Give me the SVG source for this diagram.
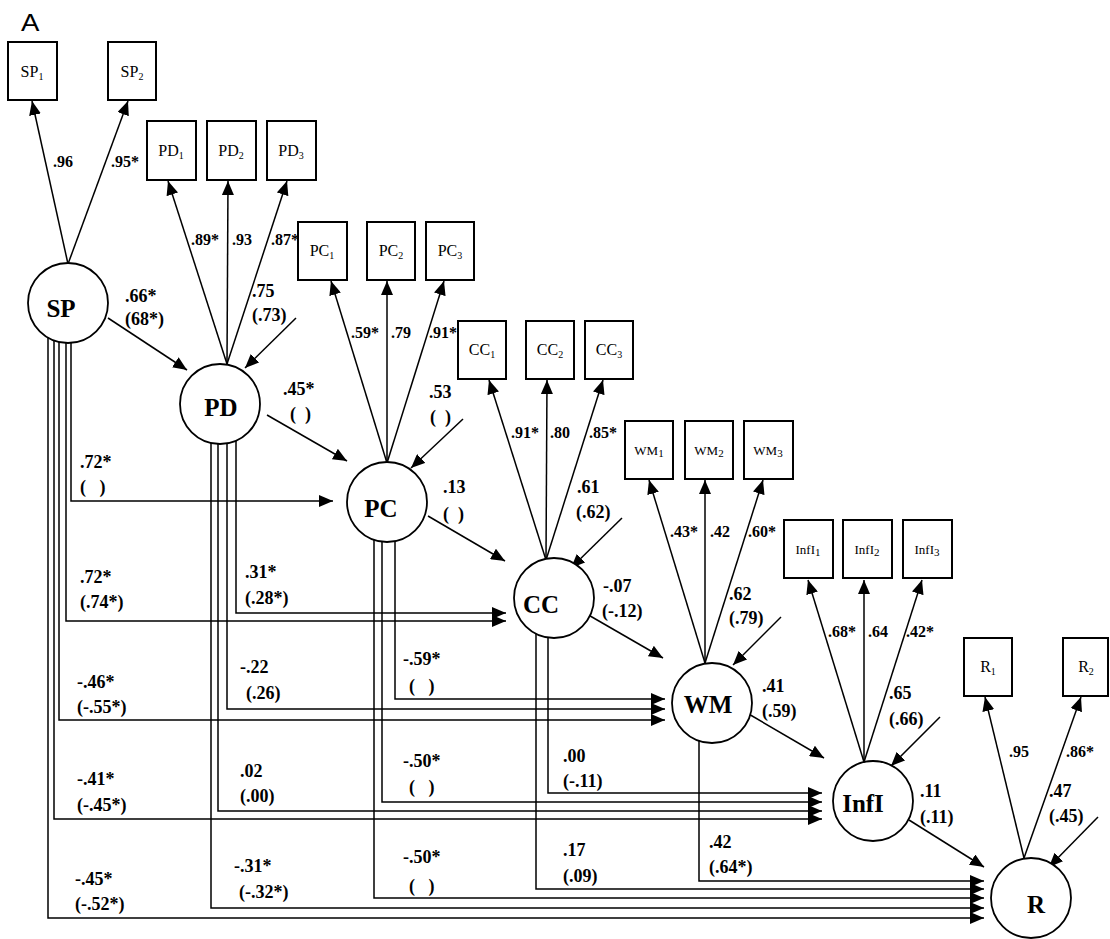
<svg xmlns="http://www.w3.org/2000/svg" width="1110" height="939" viewBox="0 0 1110 939">
<defs>
<marker id="ah" markerUnits="userSpaceOnUse" markerWidth="14" markerHeight="12" refX="14" refY="6" orient="auto">
<path d="M0,0 L14,6 L0,12 z" fill="#000"/>
</marker>
<style>
.c{fill:none;stroke:#000;stroke-width:1.5;marker-end:url(#ah)}
.box{fill:#fff;stroke:#000;stroke-width:2}
.lat{fill:#fff;stroke:#000;stroke-width:1.8}
.bl{font-family:"Liberation Serif",serif;font-size:16px;text-anchor:middle}
.bs{font-family:"Liberation Serif",serif;font-size:13px;text-anchor:middle}
.ll{font-family:"Liberation Serif",serif;font-size:25px;font-weight:bold;text-anchor:middle}
.ld{font-family:"Liberation Serif",serif;font-size:16px;font-weight:bold}
.pc{font-family:"Liberation Serif",serif;font-size:18px;font-weight:bold}
</style>
</defs>
<rect width="1110" height="939" fill="#fff"/>
<text x="21" y="31" font-family="Liberation Sans, sans-serif" font-size="24" transform="translate(21 31) scale(1.15 1) translate(-21 -31)">A</text>

<g id="connectors">
<line class="c" x1="68" y1="264" x2="32" y2="101"/>
<line class="c" x1="68" y1="264" x2="128" y2="101"/>
<line class="c" x1="227" y1="364" x2="168" y2="181"/>
<line class="c" x1="227" y1="364" x2="228" y2="181"/>
<line class="c" x1="227" y1="364" x2="287" y2="181"/>
<line class="c" x1="387" y1="463" x2="331" y2="281"/>
<line class="c" x1="387" y1="463" x2="387" y2="281"/>
<line class="c" x1="387" y1="463" x2="444" y2="281"/>
<line class="c" x1="546" y1="560" x2="489" y2="380"/>
<line class="c" x1="546" y1="560" x2="547" y2="380"/>
<line class="c" x1="546" y1="560" x2="603" y2="380"/>
<line class="c" x1="705" y1="663" x2="649" y2="480"/>
<line class="c" x1="705" y1="663" x2="705" y2="480"/>
<line class="c" x1="705" y1="663" x2="763" y2="480"/>
<line class="c" x1="864" y1="762" x2="808" y2="580"/>
<line class="c" x1="864" y1="762" x2="864" y2="580"/>
<line class="c" x1="864" y1="762" x2="922" y2="580"/>
<line class="c" x1="1024" y1="858" x2="985" y2="697"/>
<line class="c" x1="1024" y1="858" x2="1081" y2="697"/>
<line class="c" x1="296" y1="318" x2="245" y2="368"/>
<line class="c" x1="463" y1="419" x2="411" y2="468"/>
<line class="c" x1="622" y1="518" x2="571" y2="568"/>
<line class="c" x1="781" y1="617" x2="733" y2="665"/>
<line class="c" x1="940" y1="717" x2="891" y2="766"/>
<line class="c" x1="1098" y1="817" x2="1049" y2="867"/>
<line class="c" x1="108" y1="318" x2="187" y2="370"/>
<line class="c" x1="267" y1="415" x2="347" y2="461"/>
<line class="c" x1="428" y1="516" x2="505" y2="561"/>
<line class="c" x1="585" y1="613" x2="663" y2="658"/>
<line class="c" x1="747" y1="713" x2="824" y2="758"/>
<line class="c" x1="909" y1="820" x2="984" y2="867"/>
<polyline class="c" points="71,303 71,501 333,501"/>
<polyline class="c" points="66,303 66,621 506,621"/>
<polyline class="c" points="59,303 59,720 665,720"/>
<polyline class="c" points="54,303 54,819 822,819"/>
<polyline class="c" points="48,303 48,918 984,918"/>
<polyline class="c" points="236,404 236,613 506,613"/>
<polyline class="c" points="227,404 227,709 665,709"/>
<polyline class="c" points="218,404 218,811 822,811"/>
<polyline class="c" points="211,404 211,908 984,908"/>
<polyline class="c" points="395,502 395,699 665,699"/>
<polyline class="c" points="382,502 382,802 822,802"/>
<polyline class="c" points="374,502 374,898 984,898"/>
<polyline class="c" points="548,598 548,793 822,793"/>
<polyline class="c" points="536,598 536,889 984,889"/>
<polyline class="c" points="699,703 699,881 984,881"/>
</g>

<g id="SP1"><rect class="box" x="8" y="42" width="49" height="58"/><text class="bl" x="32" y="77">SP<tspan font-size="10" dy="3">1</tspan></text></g>
<g id="SP2"><rect class="box" x="108" y="42" width="48" height="58"/><text class="bl" x="132" y="77">SP<tspan font-size="10" dy="3">2</tspan></text></g>
<g id="PD1"><rect class="box" x="147" y="121" width="49" height="59"/><text class="bl" x="171" y="156">PD<tspan font-size="10" dy="3">1</tspan></text></g>
<g id="PD2"><rect class="box" x="207" y="121" width="49" height="59"/><text class="bl" x="231" y="156">PD<tspan font-size="10" dy="3">2</tspan></text></g>
<g id="PD3"><rect class="box" x="267" y="121" width="49" height="59"/><text class="bl" x="291" y="156">PD<tspan font-size="10" dy="3">3</tspan></text></g>
<g id="PC1"><rect class="box" x="298" y="222" width="49" height="58"/><text class="bl" x="322" y="256">PC<tspan font-size="10" dy="3">1</tspan></text></g>
<g id="PC2"><rect class="box" x="367" y="222" width="48" height="58"/><text class="bl" x="391" y="256">PC<tspan font-size="10" dy="3">2</tspan></text></g>
<g id="PC3"><rect class="box" x="426" y="222" width="48" height="58"/><text class="bl" x="450" y="256">PC<tspan font-size="10" dy="3">3</tspan></text></g>
<g id="CC1"><rect class="box" x="458" y="321" width="48" height="58"/><text class="bl" x="482" y="355">CC<tspan font-size="10" dy="3">1</tspan></text></g>
<g id="CC2"><rect class="box" x="526" y="321" width="48" height="58"/><text class="bl" x="550" y="355">CC<tspan font-size="10" dy="3">2</tspan></text></g>
<g id="CC3"><rect class="box" x="585" y="321" width="48" height="58"/><text class="bl" x="609" y="355">CC<tspan font-size="10" dy="3">3</tspan></text></g>
<g id="WM1"><rect class="box" x="625" y="421" width="48" height="58"/><text class="bs" x="649" y="455">WM<tspan font-size="11" dy="2">1</tspan></text></g>
<g id="WM2"><rect class="box" x="685" y="421" width="48" height="58"/><text class="bs" x="709" y="455">WM<tspan font-size="11" dy="2">2</tspan></text></g>
<g id="WM3"><rect class="box" x="744" y="421" width="49" height="58"/><text class="bs" x="768" y="455">WM<tspan font-size="11" dy="2">3</tspan></text></g>
<g id="InfI1"><rect class="box" x="784" y="520" width="49" height="58"/><text class="bs" x="808" y="554">InfI<tspan font-size="11" dy="2">1</tspan></text></g>
<g id="InfI2"><rect class="box" x="843" y="520" width="49" height="58"/><text class="bs" x="867" y="554">InfI<tspan font-size="11" dy="2">2</tspan></text></g>
<g id="InfI3"><rect class="box" x="903" y="520" width="49" height="58"/><text class="bs" x="927" y="554">InfI<tspan font-size="11" dy="2">3</tspan></text></g>
<g id="R1"><rect class="box" x="964" y="638" width="48" height="58"/><text class="bl" x="988" y="672">R<tspan font-size="10" dy="3">1</tspan></text></g>
<g id="R2"><rect class="box" x="1063" y="638" width="45" height="58"/><text class="bl" x="1086" y="672">R<tspan font-size="10" dy="3">2</tspan></text></g>

<g id="SP"><circle class="lat" cx="68" cy="303" r="40"/><text class="ll" x="61" y="317">SP</text></g>
<g id="PD"><circle class="lat" cx="220" cy="404" r="40"/><text class="ll" x="221" y="416">PD</text></g>
<g id="PC"><circle class="lat" cx="387" cy="502" r="40"/><text class="ll" x="381" y="517">PC</text></g>
<g id="CC"><circle class="lat" cx="554" cy="598" r="40"/><text class="ll" x="541" y="613">CC</text></g>
<g id="WM"><circle class="lat" cx="712" cy="703" r="40"/><text class="ll" x="708" y="713">WM</text></g>
<g id="InfI"><circle class="lat" cx="873" cy="801" r="40"/><text class="ll" x="863" y="812">InfI</text></g>
<g id="R"><circle class="lat" cx="1031" cy="898" r="40"/><text class="ll" x="1036" y="913">R</text></g>

<g id="labels">
<text class="ld" x="53" y="167">.96</text>
<text class="ld" x="111" y="167">.95*</text>
<text class="ld" x="191" y="245">.89*</text>
<text class="ld" x="232" y="245">.93</text>
<text class="ld" x="271" y="245">.87*</text>
<text class="ld" x="351" y="338">.59*</text>
<text class="ld" x="391" y="338">.79</text>
<text class="ld" x="429" y="338">.91*</text>
<text class="ld" x="511" y="438">.91*</text>
<text class="ld" x="550" y="438">.80</text>
<text class="ld" x="589" y="438">.85*</text>
<text class="ld" x="670" y="537">.43*</text>
<text class="ld" x="710" y="537">.42</text>
<text class="ld" x="748" y="537">.60*</text>
<text class="ld" x="828" y="637">.68*</text>
<text class="ld" x="868" y="637">.64</text>
<text class="ld" x="906" y="637">.42*</text>
<text class="ld" x="1009" y="757">.95</text>
<text class="ld" x="1066" y="757">.86*</text>

<text class="pc" x="125" y="302">.66*</text>
<text class="pc" x="125" y="325">(68*)</text>
<text class="pc" x="252" y="297">.75</text>
<text class="pc" x="252" y="321">(.73)</text>
<text class="pc" x="283" y="395">.45*</text>
<text class="pc" x="290" y="420">(&#160;&#160;)</text>
<text class="pc" x="429" y="398">.53</text>
<text class="pc" x="430" y="423">(&#160;&#160;)</text>
<text class="pc" x="80" y="468">.72*</text>
<text class="pc" x="80" y="493">(&#160;&#160;&#160;)</text>
<text class="pc" x="443" y="493">.13</text>
<text class="pc" x="443" y="520">(&#160;&#160;)</text>
<text class="pc" x="577" y="493">.61</text>
<text class="pc" x="576" y="518">(.62)</text>
<text class="pc" x="80" y="583">.72*</text>
<text class="pc" x="80" y="608">(.74*)</text>
<text class="pc" x="245" y="578">.31*</text>
<text class="pc" x="245" y="604">(.28*)</text>
<text class="pc" x="603" y="592">-.07</text>
<text class="pc" x="602" y="617">(-.12)</text>
<text class="pc" x="729" y="600">.62</text>
<text class="pc" x="729" y="624">(.79)</text>
<text class="pc" x="403" y="665">-.59*</text>
<text class="pc" x="409" y="692">(&#160;&#160;&#160;)</text>
<text class="pc" x="240" y="673">-.22</text>
<text class="pc" x="246" y="699">(.26)</text>
<text class="pc" x="77" y="688">-.46*</text>
<text class="pc" x="77" y="713">(-.55*)</text>
<text class="pc" x="762" y="692">.41</text>
<text class="pc" x="762" y="717">(.59)</text>
<text class="pc" x="889" y="699">.65</text>
<text class="pc" x="889" y="725">(.66)</text>
<text class="pc" x="563" y="762">.00</text>
<text class="pc" x="563" y="787">(-.11)</text>
<text class="pc" x="403" y="767">-.50*</text>
<text class="pc" x="409" y="793">(&#160;&#160;&#160;)</text>
<text class="pc" x="240" y="777">.02</text>
<text class="pc" x="240" y="802">(.00)</text>
<text class="pc" x="77" y="785">-.41*</text>
<text class="pc" x="77" y="811">(-.45*)</text>
<text class="pc" x="920" y="797">.11</text>
<text class="pc" x="920" y="823">(.11)</text>
<text class="pc" x="1049" y="797">.47</text>
<text class="pc" x="1049" y="822">(.45)</text>
<text class="pc" x="709" y="848">.42</text>
<text class="pc" x="709" y="873">(.64*)</text>
<text class="pc" x="563" y="856">.17</text>
<text class="pc" x="563" y="882">(.09)</text>
<text class="pc" x="403" y="863">-.50*</text>
<text class="pc" x="409" y="892">(&#160;&#160;&#160;)</text>
<text class="pc" x="234" y="872">-.31*</text>
<text class="pc" x="239" y="898">(-.32*)</text>
<text class="pc" x="75" y="885">-.45*</text>
<text class="pc" x="75" y="910">(-.52*)</text>
</g>
</svg>
